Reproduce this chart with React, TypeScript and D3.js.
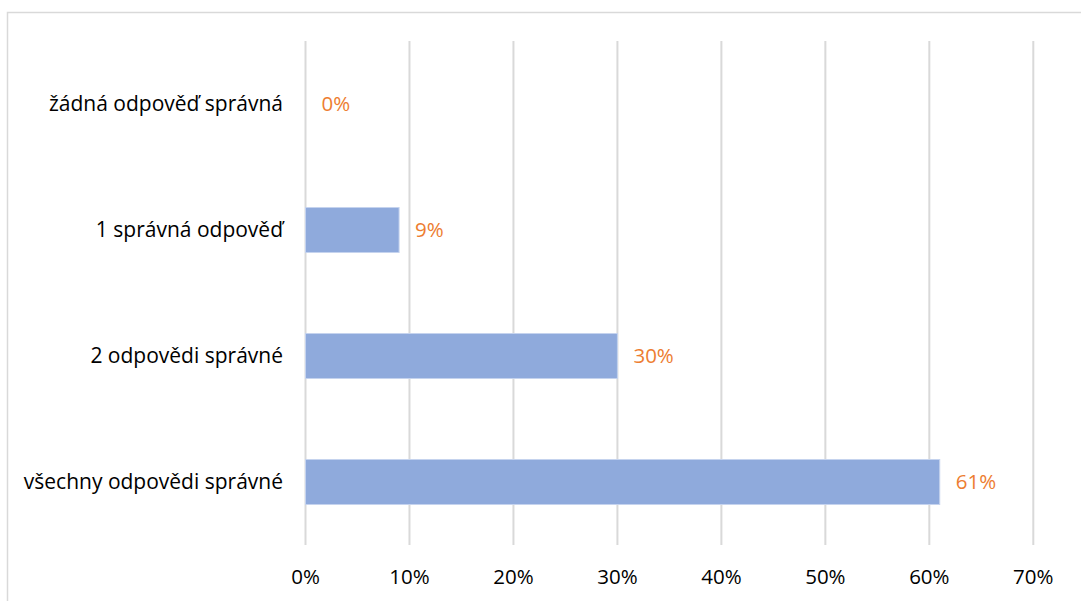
import * as d3 from 'd3'
import React, { useEffect, useRef } from 'react'

const categories = [
  'žádná odpověď správná',
  '1 správná odpověď',
  '2 odpovědi správné',
  'všechny odpovědi správné',
]
const values = [0, 9, 30, 61]
const tickValues = [0, 10, 20, 30, 40, 50, 60, 70]

const App = () => {
  const svgRef = useRef<any>(null)

  useEffect(() => {
    if (!svgRef.current) return
    d3.select(svgRef.current).selectAll('*').remove()

    const width = 1081
    const height = 601
    const font = '"Open Sans", Lato, sans-serif'
    const fontSize = '20.5px'

    const svg = d3.select(svgRef.current)
      .attr('width', width)
      .attr('height', height)

    // chart border (runs off the right and bottom edges)
    svg.append('rect')
      .attr('x', 7.5)
      .attr('y', 12.5)
      .attr('width', 1200)
      .attr('height', 800)
      .attr('fill', 'white')
      .attr('stroke', '#d9d9d9')
      .attr('stroke-width', 1.5)

    const x = d3.scaleLinear().domain([0, 70]).range([305.5, 1033.3])
    const y = d3.scaleBand().domain(categories).range([41, 545]).paddingInner(0.643).paddingOuter(0.3215)

    // gridlines
    svg.selectAll('.grid')
      .data(tickValues)
      .enter()
      .append('line')
      .attr('class', 'grid')
      .attr('x1', (d) => x(d))
      .attr('x2', (d) => x(d))
      .attr('y1', 41)
      .attr('y2', 545)
      .attr('stroke', '#d9d9d9')
      .attr('stroke-width', 2)

    // bars
    svg.selectAll('.bar')
      .data(values)
      .enter()
      .append('rect')
      .attr('class', 'bar')
      .attr('x', x(0))
      .attr('y', (d, i) => y(categories[i]) as number)
      .attr('width', (d) => x(d) - x(0))
      .attr('height', y.bandwidth())
      .attr('fill', '#8faadc')
      .attr('stroke', (d) => d > 0 ? '#c5d3ee' : 'none')
      .attr('stroke-width', 1)

    // value labels
    svg.selectAll('.value')
      .data(values)
      .enter()
      .append('text')
      .attr('class', 'value')
      .attr('x', (d) => x(d) + 16)
      .attr('y', (d, i) => (y(categories[i]) as number) + y.bandwidth() / 2)
      .attr('dy', '0.35em')
      .attr('font-family', font)
      .attr('font-size', fontSize)
      .attr('fill', '#ed7d31')
      .text((d) => `${d}%`)

    // category labels
    svg.selectAll('.cat')
      .data(categories)
      .enter()
      .append('text')
      .attr('class', 'cat')
      .attr('x', 283)
      .attr('y', (d) => (y(d) as number) + y.bandwidth() / 2)
      .attr('dy', '0.35em')
      .attr('text-anchor', 'end')
      .attr('font-family', font)
      .attr('font-size', '21px')
      .attr('fill', '#000')
      .text((d) => d)

    // x tick labels
    svg.selectAll('.tick-label')
      .data(tickValues)
      .enter()
      .append('text')
      .attr('class', 'tick-label')
      .attr('x', (d) => x(d))
      .attr('y', 577)
      .attr('dy', '0.35em')
      .attr('text-anchor', 'middle')
      .attr('font-family', font)
      .attr('font-size', fontSize)
      .attr('fill', '#000')
      .text((d) => `${d}%`)
  }, [])

  return (
    <svg ref={svgRef} style={{ position: 'absolute', left: 0, top: 0, overflow: 'hidden' }}></svg>
  )
}

export default App
